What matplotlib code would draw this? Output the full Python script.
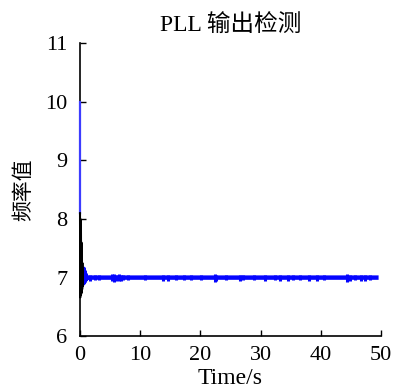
import matplotlib.pyplot as plt

plt.rcParams['font.family'] = ['Liberation Serif', 'Noto Sans CJK SC']

# initial jump (thin blue)
t_jump = [0.0, 0.0]
f_jump = [10.0, 8.1]

# black oscillation at the very beginning
t_osc = [0.0, 0.04, 0.08, 0.12, 0.16, 0.2, 0.24, 0.28, 0.32, 0.36, 0.4, 0.44, 0.48]
f_osc = [8.1, 6.66, 8.0, 6.7, 7.8, 6.72, 7.6, 6.75, 7.4, 6.8, 7.25, 6.85, 7.1]

# settling part (blue)
t_settle = [0.48, 0.55, 0.62, 0.7, 0.78, 0.86, 0.95, 1.05, 1.2]
f_settle = [7.1, 6.9, 7.15, 6.92, 7.1, 6.95, 7.05, 6.98, 7.0]

# steady state around 7 Hz (blue)
t_ss = [1.2, 49.6]
f_ss = [7.0, 7.0]

# small noise bursts on the steady line
spike_t = [1.6, 2.5, 3.2, 5.3, 5.6, 5.9, 6.4, 6.8, 7.2, 8.0, 10.8, 13.8, 14.6, 15.9,
           17.3, 18.4, 20.1, 22.4, 22.6, 24.3, 26.6, 27.1, 28.9, 30.7, 32.4, 33.2,
           34.5, 35.4, 36.6, 38.1, 39.3, 40.6, 44.3, 44.8, 45.6, 46.7, 47.4, 48.2]
spike_h = [0.05, 0.04, 0.04, 0.06, 0.07, 0.05, 0.06, 0.05, 0.04, 0.04, 0.04, 0.05,
           0.05, 0.04, 0.04, 0.04, 0.04, 0.07, 0.05, 0.04, 0.05, 0.04, 0.04, 0.05,
           0.04, 0.05, 0.05, 0.04, 0.04, 0.05, 0.05, 0.04, 0.07, 0.05, 0.04, 0.05,
           0.05, 0.04]

fig = plt.figure(figsize=(4, 3.9), dpi=100)
ax = fig.add_axes([0.2, 0.138, 0.7525, 0.751])

ax.plot(t_settle + t_ss, f_settle + f_ss, color='#0505ff', lw=3.2, solid_capstyle='butt')
ax.vlines(spike_t, [7 - h for h in spike_h], [7 + h for h in spike_h],
          color='#0505ff', lw=2.2)
# draw the start on top of the spine so it stays visible
ax.plot(t_jump, f_jump, color='#3c3cff', lw=1.6, zorder=3, clip_on=False)
ax.plot(t_osc, f_osc, color='black', lw=1.5, zorder=3, clip_on=False)

ax.set_xlim(0, 50)
ax.set_ylim(6, 11)
ax.set_xticks([0, 10, 20, 30, 40, 50])
ax.set_yticks([6, 7, 8, 9, 10, 11])
ax.tick_params(direction='in', labelsize=16, length=4, width=1)
ax.tick_params(axis='x', pad=7)
ax.tick_params(axis='y', pad=9)
ax.spines['top'].set_visible(False)
ax.spines['right'].set_visible(False)
ax.spines['left'].set_linewidth(1.2)
ax.spines['bottom'].set_linewidth(1.2)

ax.set_title('PLL 输出检测', fontsize=17, pad=9)
ax.set_xlabel('Time/s', fontsize=17, labelpad=2)
ax.set_ylabel('频率值', fontsize=15, labelpad=8)

fig.savefig('out.png', dpi=100)
